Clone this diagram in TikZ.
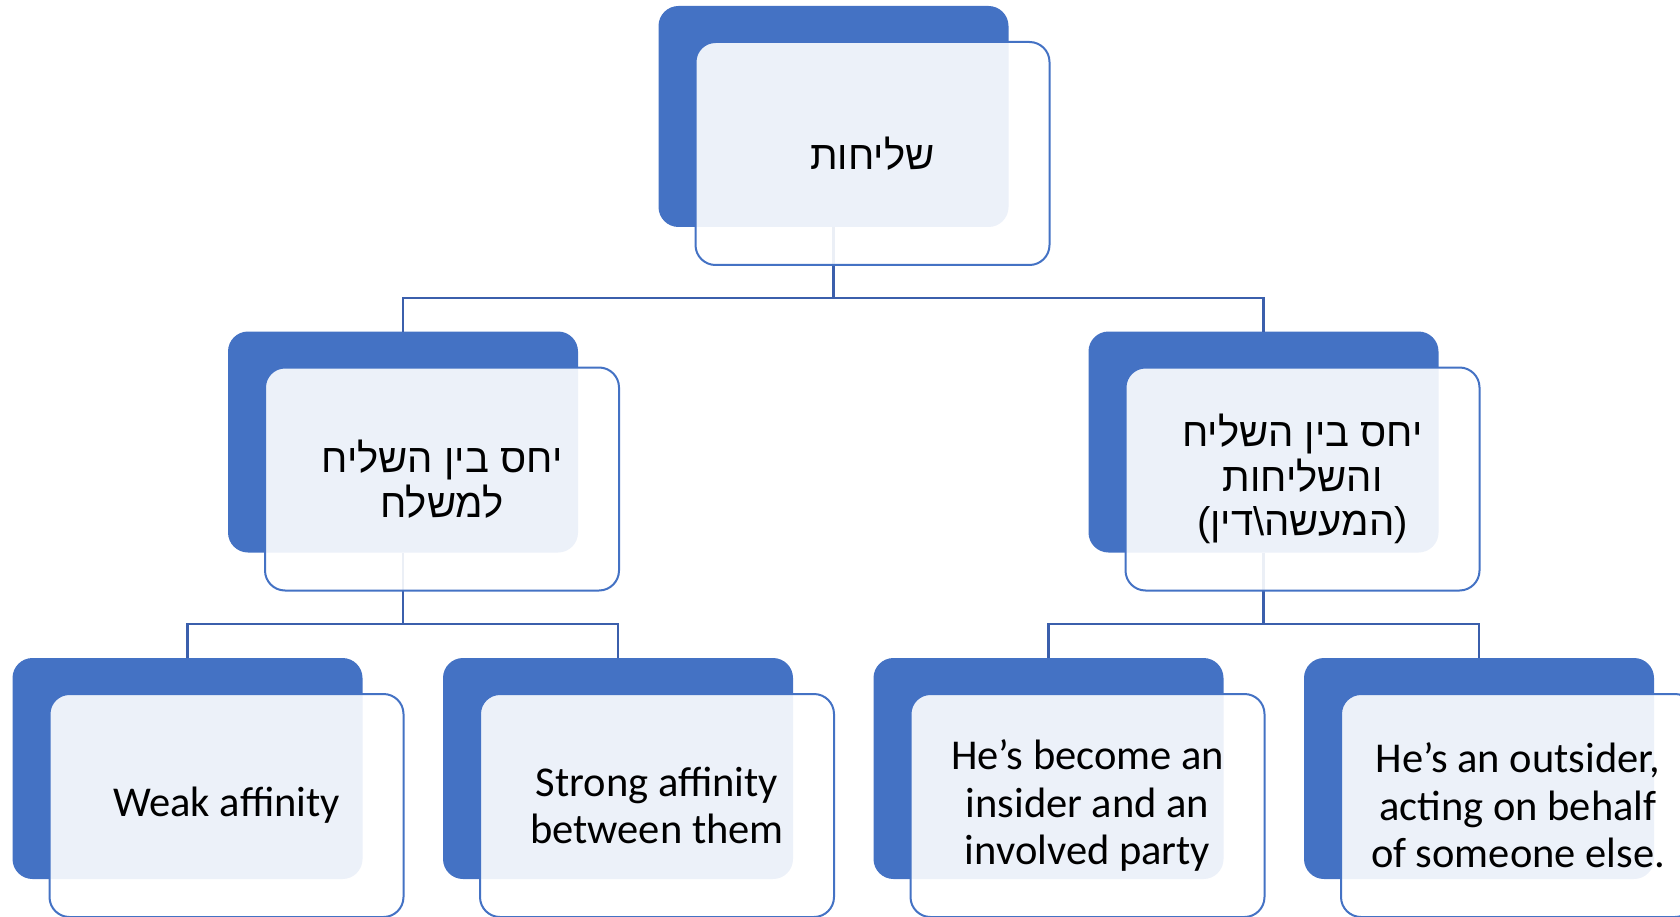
\documentclass[tikz,border=0pt]{standalone}
\usepackage{fontspec}
\setmainfont{Carlito}
\newfontfamily\hebfont[Script=Hebrew]{Liberation Sans}
\TeXXeTstate=1
\definecolor{boxblue}{HTML}{4472C4}
\definecolor{connblue}{RGB}{59,95,172}
\newcommand{\heb}[1]{{\hebfont\beginR #1\endR}}
\tikzset{
  darkbox/.style={fill=boxblue, rounded corners=20pt, minimum width=350pt, minimum height=221pt, inner sep=0pt, outer sep=0pt},
  lightbox/.style={fill=white, fill opacity=0.9, text opacity=1, draw=boxblue, draw opacity=1, line width=2pt, rounded corners=20pt, minimum width=354pt, minimum height=223pt, inner sep=0pt, align=center, font=\fontsize{42.5pt}{47.5pt}\selectfont},
  hebtext/.style={font=\fontsize{40pt}{44.5pt}\selectfont},
  conn/.style={draw=connblue, line width=2.5pt}
}
\begin{document}
\begin{tikzpicture}[x=1pt,y=-1pt]
\useasboundingbox (0,0) rectangle (1680,917);
% dark boxes
\node[darkbox] (d1) at (833.5,116.5) {};
\node[darkbox] (d2) at (403,442) {};
\node[darkbox] (d3) at (1263.5,442) {};
\node[darkbox] (d4) at (187.5,768.5) {};
\node[darkbox] (d5) at (618,768.5) {};
\node[darkbox] (d6) at (1048.5,768.5) {};
\node[darkbox] (d7) at (1479,768.5) {};
% connectors
\coordinate (b1) at (833.5,298);
\coordinate (b2) at (403,624);
\coordinate (b3) at (1263.5,624);
\draw[conn] (d1.south) -- (b1);
\draw[conn] (b1) -| (d2.north);
\draw[conn] (b1) -| (d3.north);
\draw[conn] (d2.south) -- (b2);
\draw[conn] (b2) -| (d4.north);
\draw[conn] (b2) -| (d5.north);
\draw[conn] (d3.south) -- (b3);
\draw[conn] (b3) -| (d6.north);
\draw[conn] (b3) -| (d7.north);
% light boxes
\node[lightbox, hebtext] (l1) at (872.5,153.5) {\heb{שליחות}};
\node[lightbox, hebtext] (l2) at (442,479) {\heb{יחס בין השליח}\\\heb{למשלח}};
\node[lightbox, hebtext] (l3) at (1302.5,479) {\heb{יחס בין השליח}\\\heb{והשליחות}\\\heb{(המעשה\textbackslash דין)}};
\node[lightbox] (l4) at (226.5,805.5) {Weak affinity};
\node[lightbox] (l5) at (657,805.5) {Strong affinity\\between them};
\node[lightbox] (l6) at (1087.5,805.5) {He’s become an\\insider and an\\involved party};
\node[lightbox] (l7) at (1518,805.5) {He’s an outsider,\\acting on behalf\\of someone else.};
\end{tikzpicture}
\end{document}
